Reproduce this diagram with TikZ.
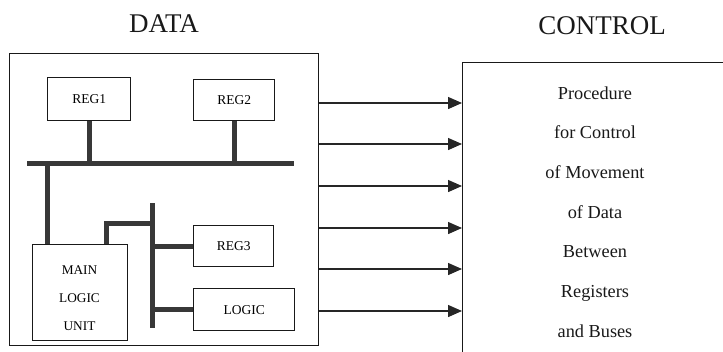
\documentclass[tikz,border=0pt]{standalone}
\usepackage{fontspec}
\setmainfont{Liberation Serif}
\usetikzlibrary{arrows.meta}
\begin{document}
\begin{tikzpicture}[x=1pt,y=-1pt,
  box/.style={draw=black!90,line width=1.4pt,inner sep=0pt,anchor=north west},
  lbl/.style={font=\fontsize{13.5}{15}\selectfont},
  bus/.style={line width=5pt,draw=black!78},
  arr/.style={line width=1.4pt,draw=black!85,-{Triangle[length=14pt,width=12pt]}},
  hdr/.style={font=\fontsize{27}{30}\selectfont,text=black!90},
  ctext/.style={font=\fontsize{18.3}{39.7}\selectfont,align=center,text=black!90}]
\useasboundingbox (0,0) rectangle (723,351);
\clip (0,0) rectangle (723,351);
% headers
\node[hdr] (hdata) at (164,24) {DATA};
\node[hdr] (hctrl) at (602,25.5) {CONTROL};
% data side
\node[box,minimum width=309pt,minimum height=292pt] (data) at (9,53) {};
\node[box,lbl,minimum width=83pt,minimum height=43pt] (reg1) at (47,77) {REG1};
\node[box,lbl,minimum width=81pt,minimum height=41pt] (reg2) at (193,79) {REG2};
\node[box,minimum width=95pt,minimum height=96pt] (mlu) at (32,244) {};
\node[align=center,font=\fontsize{13.3}{28}\selectfont] (mlutext) at (79.5,298) {MAIN\\LOGIC\\UNIT};
\node[box,lbl,minimum width=80pt,minimum height=41pt] (reg3) at (193,225) {REG3};
\node[box,lbl,minimum width=101pt,minimum height=42pt] (logic) at (193,288) {LOGIC};
% control side
\node[box,minimum width=300pt,minimum height=310pt] (ctrl) at (462,62) {};
\node[ctext] (ctxt) at (595,212) {Procedure\\for Control\\of Movement\\of Data\\Between\\Registers\\and Buses};
% buses
\coordinate (b1l) at (27,163);
\coordinate (b1r) at (294,163);
\draw[bus] (b1l) -- (b1r);
\draw[bus] (reg1.south) -- (reg1.south |- b1l);
\draw[bus] (reg2.south) -- (reg2.south |- b1l);
\coordinate (m1) at (47,244);
\draw[bus] (m1) -- (m1 |- b1l);
\coordinate (b2t) at (152,203);
\coordinate (b2b) at (152,328);
\draw[bus] (b2t) -- (b2b);
\coordinate (m2) at (106,244);
\coordinate (j) at (152,223);
\draw[bus] (m2) |- (j);
\draw[bus] (reg3.west) -- (reg3.west -| b2t);
\draw[bus] (logic.west) -- (logic.west -| b2t);
% arrows
\foreach \y in {103,144,186,228,269,311}
  \draw[arr] (data.east |- 0,\y) -- (ctrl.west |- 0,\y);
\end{tikzpicture}
\end{document}
